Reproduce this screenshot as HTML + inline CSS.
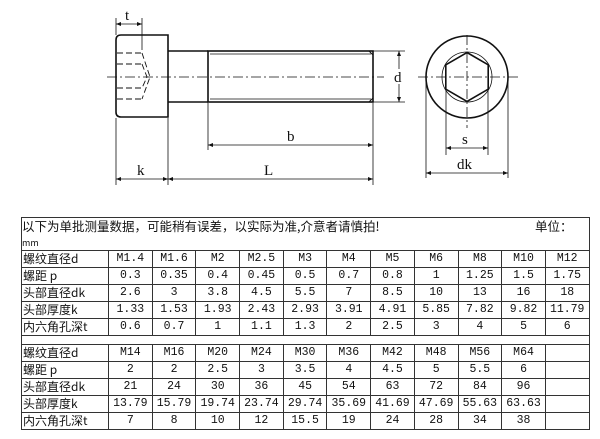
<!DOCTYPE html>
<html><head><meta charset="utf-8"><style>
html,body{margin:0;padding:0;background:#fff;width:600px;height:439px;overflow:hidden;position:relative}
svg{position:absolute;left:0;top:0}
table{position:absolute;left:21px;top:217px;border-collapse:collapse;font-family:"Liberation Mono","Noto Sans CJK SC",monospace;font-size:11.5px;color:#111}
td{border:1px solid #333;height:16px;padding:0;text-align:center;width:42.7px;line-height:16px;white-space:nowrap}
td.l{width:85px;text-align:left;padding-left:1px;font-family:"Noto Sans CJK SC","Liberation Mono",sans-serif;font-size:12px}
td.h{text-align:left;height:31px;vertical-align:top;line-height:15px;font-family:"Noto Sans CJK SC",sans-serif;font-size:12.5px}
td.sp{height:8px;line-height:8px}
</style></head><body>
<svg width="600" height="217" viewBox="0 0 600 217" font-family="Liberation Serif,serif" fill="none" stroke="#111">
<!-- head -->
<path d="M121 35 H168 V117 H121 Q116 117 116 112 V40 Q116 35 121 35 Z" stroke-width="1.6"/>
<!-- shank -->
<path d="M168 51 H208 M168 102 H208" stroke-width="1.5"/>
<rect x="208" y="51" width="165" height="51" stroke-width="1.6"/>
<path d="M210 54 H371 M210 99 H371" stroke-width="0.8"/>
<path d="M369 51 L373 55 V98 L369 102" stroke-width="1"/>
<!-- socket dashes -->
<g stroke-width="0.9" stroke-dasharray="6,3">
<path d="M117 53 H142 M117 64 H142 M117 88 H142 M117 99 H142 M142 53 L150 77 L142 99 M142 64 L147 77 L142 88"/>
</g>
<!-- centerlines -->
<path d="M107 77 H384" stroke-width="0.8" stroke-dasharray="10,3,2,3"/>
<path d="M418 77 H520 M467 35 V128" stroke-width="0.8" stroke-dasharray="10,3,2,3"/>
<!-- dims -->
<g stroke-width="0.8">
<path d="M116 18 V35 M142 18 V50 M116 24 H142"/>
<path d="M373 51 H405 M373 102 H405 M399 51 V102"/>
<path d="M208 103 V150 M373 103 V185 M208 145 H373"/>
<path d="M116 118 V185 M168 118 V185 M116 179 H373"/>
<path d="M446 90 V155 M488 90 V155 M446 148 H488"/>
<path d="M426 80 V178 M508 80 V178 M426 173 H508"/>
</g>
<g fill="#111" stroke="none">
<path d="M116 24 l5 -2 v4z M142 24 l-5 -2 v4z M399 51 l-2 5 h4z M399 102 l-2 -5 h4z M208 145 l5 -2 v4z M373 145 l-5 -2 v4z M116 179 l5 -2 v4z M168 179 l-5 -2 v4z M168 179 l5 -2 v4z M373 179 l-5 -2 v4z M446 148 l5 -2 v4z M488 148 l-5 -2 v4z M426 173 l5 -2 v4z M508 173 l-5 -2 v4z"/>
</g>
<!-- end view -->
<circle cx="467" cy="77" r="41" stroke-width="1.6"/>
<circle cx="467" cy="77" r="25" stroke-width="0.8"/>
<polygon points="467,52.5 488.2,64.8 488.2,89.2 467,101.5 445.8,89.2 445.8,64.8" stroke-width="1.6"/>
<rect x="393" y="69" width="12" height="15" fill="#fff" stroke="none"/>
<g fill="#111" stroke="none" font-size="15">
<text x="125" y="20">t</text>
<text x="394" y="82">d</text>
<text x="287" y="141">b</text>
<text x="137" y="175">k</text>
<text x="264" y="175">L</text>
<text x="462" y="144">s</text>
<text x="457" y="169">dk</text>
</g>
</svg>
<table>
<tr><td class="h" colspan="12">以下为单批测量数据，可能稍有误差，以实际为准,介意者请慎拍!<span style="float:right;margin-right:16px">单位：</span><br><span style="font-size:9px">mm</span></td></tr>
<tr><td class="l">螺纹直径d</td><td>M1.4</td><td>M1.6</td><td>M2</td><td>M2.5</td><td>M3</td><td>M4</td><td>M5</td><td>M6</td><td>M8</td><td>M10</td><td>M12</td></tr>
<tr><td class="l">螺距 p</td><td>0.3</td><td>0.35</td><td>0.4</td><td>0.45</td><td>0.5</td><td>0.7</td><td>0.8</td><td>1</td><td>1.25</td><td>1.5</td><td>1.75</td></tr>
<tr><td class="l">头部直径dk</td><td>2.6</td><td>3</td><td>3.8</td><td>4.5</td><td>5.5</td><td>7</td><td>8.5</td><td>10</td><td>13</td><td>16</td><td>18</td></tr>
<tr><td class="l">头部厚度k</td><td>1.33</td><td>1.53</td><td>1.93</td><td>2.43</td><td>2.93</td><td>3.91</td><td>4.91</td><td>5.85</td><td>7.82</td><td>9.82</td><td>11.79</td></tr>
<tr><td class="l">内六角孔深t</td><td>0.6</td><td>0.7</td><td>1</td><td>1.1</td><td>1.3</td><td>2</td><td>2.5</td><td>3</td><td>4</td><td>5</td><td>6</td></tr>
<tr><td class="sp" colspan="12"></td></tr>
<tr><td class="l">螺纹直径d</td><td>M14</td><td>M16</td><td>M20</td><td>M24</td><td>M30</td><td>M36</td><td>M42</td><td>M48</td><td>M56</td><td>M64</td><td></td></tr>
<tr><td class="l">螺距 p</td><td>2</td><td>2</td><td>2.5</td><td>3</td><td>3.5</td><td>4</td><td>4.5</td><td>5</td><td>5.5</td><td>6</td><td></td></tr>
<tr><td class="l">头部直径dk</td><td>21</td><td>24</td><td>30</td><td>36</td><td>45</td><td>54</td><td>63</td><td>72</td><td>84</td><td>96</td><td></td></tr>
<tr><td class="l">头部厚度k</td><td>13.79</td><td>15.79</td><td>19.74</td><td>23.74</td><td>29.74</td><td>35.69</td><td>41.69</td><td>47.69</td><td>55.63</td><td>63.63</td><td></td></tr>
<tr><td class="l">内六角孔深t</td><td>7</td><td>8</td><td>10</td><td>12</td><td>15.5</td><td>19</td><td>24</td><td>28</td><td>34</td><td>38</td><td></td></tr>
</table>
</body></html>
